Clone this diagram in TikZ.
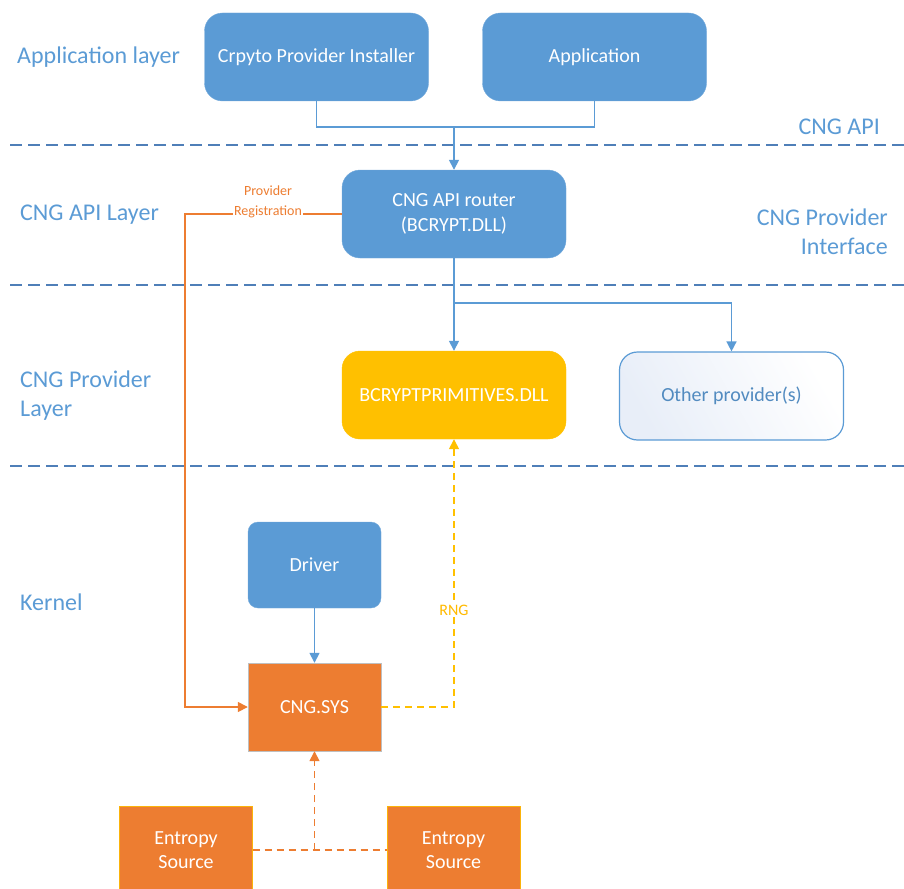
\documentclass[tikz,border=0pt]{standalone}
\usepackage{fontspec}
\setmainfont{Carlito}
\usetikzlibrary{arrows.meta, calc, positioning}

\definecolor{cblue}{HTML}{5B9BD5}
\definecolor{corange}{HTML}{ED7D31}
\definecolor{cgold}{HTML}{FFC000}
\definecolor{csep}{HTML}{4F7FB8}
\definecolor{cpale}{HTML}{E8EEF8}

\tikzset{
    blockround/.style={rounded corners=18pt, minimum width=224pt, minimum height=88pt,
        align=center, text=white, font=\fontsize{20}{25}\selectfont},
    blockblue/.style={blockround, fill=cblue, draw=cblue!85!white},
    blocksq/.style={minimum width=133pt, minimum height=88pt, align=center,
        text=white, fill=corange, font=\fontsize{20}{24}\selectfont},
    layertext/.style={text=cblue, inner sep=0pt, font=\fontsize{24}{29}\selectfont},
    sepline/.style={csep, line width=1.2pt, dash pattern=on 12pt off 6pt},
    bline/.style={cblue, line width=1.5pt},
    oline/.style={corange, line width=1.5pt},
    tip/.style={-{Triangle[length=10pt,width=10pt]}}
}

\begin{document}
\begin{tikzpicture}[x=1pt, y=-1pt]
    \useasboundingbox (0,0) rectangle (904,888);

    % layer separators
    \draw [sepline] (10,145) -- (904,145);
    \draw [sepline] (10,285) -- (904,285);
    \draw [sepline] (10,466) -- (904,466);

    % layer names
    \node [layertext, anchor=west] (Lapp) at (17, 57) {Application layer};
    \node [layertext, anchor=west] (Lapi) at (20, 215) {CNG API Layer};
    \node [layertext, anchor=west, align=left] (Lprov) at (20, 396) {CNG Provider\\Layer};
    \node [layertext, anchor=west] (Lkern) at (20, 602) {Kernel};
    \node [layertext, anchor=east] (Iapi) at (880, 127) {CNG API};
    \node [layertext, anchor=east, align=right] (Iprov) at (888, 232) {CNG Provider\\Interface};

    % boxes
    \node [blockblue] (Ninst) at (316.5, 57) {Crpyto Provider Installer};
    \node [blockblue] (Napp) at (594.5, 57) {Application};
    \node [blockblue] (Nrouter) at (454, 214) {CNG API router\\(BCRYPT.DLL)};
    \node [blockround, fill=cgold, draw=cgold] (Nprim) at (454, 395) {BCRYPTPRIMITIVES.DLL};
    \node [blockround, left color=cpale, right color=white, shading angle=120,
        draw=cblue, line width=1.2pt, text=cblue!90!black] (Nother) at (731.5, 396) {Other provider(s)};
    \node [blockblue, rounded corners=10pt, minimum width=133pt, minimum height=86pt] (Ndriver) at (314.5, 565) {Driver};
    \node [blocksq, draw=black!25] (Ncng) at (314.5, 707) {CNG.SYS};
    \node [blocksq, draw=cgold!80!corange] (Nentl) at (186, 850) {Entropy\\Source};
    \node [blocksq, draw=cgold!80!corange] (Nentr) at (453.5, 850) {Entropy\\Source};

    % helper points
    \coordinate (Cmerge) at (454, 127);
    \coordinate (Csplit) at (454, 303);
    \coordinate (Creg) at (185, 214);
    \coordinate (Cent) at (314.5, 850);

    % connectors
    \draw [bline] (Ninst.south) |- (Cmerge);
    \draw [bline] (Napp.south) |- (Cmerge);
    \draw [bline, tip] (Cmerge) -- (Nrouter.north);
    \draw [bline, tip] (Nrouter.south) -- (Nprim.north);
    \draw [bline, tip] (Csplit) -| (Nother.north);
    \draw [bline, tip] (Ndriver.south) -- (Ncng.north);
    \draw [oline, tip] (Nrouter.west) -- (Creg) |- (Ncng.west);
    \draw [cgold, line width=1.5pt, dash pattern=on 7pt off 5pt, tip] (Ncng.east) -| (Nprim.south);
    \draw [oline, dash pattern=on 7pt off 5pt] (Nentl.east) -- (Nentr.west);
    \draw [oline, dash pattern=on 7pt off 5pt, tip] (Cent) -- (Ncng.south);

    % connector labels
    \node [fill=white, inner sep=1pt, text=corange, align=center,
        font=\fontsize{14}{20}\selectfont] (Treg) at (268, 202) {Provider\\Registration};
    \node [fill=white, inner sep=1pt, text=cgold!90!orange,
        font=\fontsize{16}{18}\selectfont] (Trng) at (454, 610) {RNG};
\end{tikzpicture}
\end{document}
